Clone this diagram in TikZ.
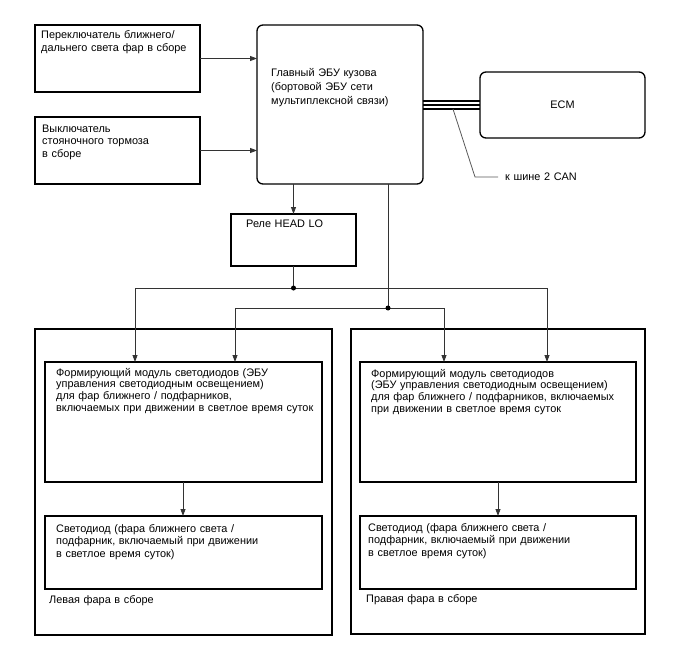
\documentclass[tikz,border=0pt]{standalone}
\usepackage{fontspec}
\setmainfont{Liberation Sans}
\usetikzlibrary{arrows.meta}
\begin{document}
\begin{tikzpicture}[x=1pt,y=-1pt,
  box/.style={draw=black,line width=1.3pt,anchor=north west,inner sep=0pt,outer sep=0pt},
  rbox/.style={box,rounded corners=6pt},
  txt/.style={anchor=base west,inner sep=0pt,align=left,text width=300pt,font=\fontsize{10.9}{12.5}\selectfont},
  conn/.style={draw=black!80,line width=0.8pt},
  arr/.style={conn,-{Triangle[length=7pt,width=5pt]}},
  dot/.style={circle,fill=black,inner sep=0pt,minimum size=5pt},
  bus/.style={draw=black,line width=1.6pt}]
\useasboundingbox (0,0) rectangle (688,658);
% boxes
\node[box,minimum width=165pt,minimum height=67pt] (sw) at (35,25) {};
\node[box,minimum width=165pt,minimum height=67pt] (pb) at (35,117) {};
\node[rbox,minimum width=166pt,minimum height=159pt] (ecu) at (257,25) {};
\node[rbox,minimum width=165pt,minimum height=66pt] (ecm) at (480,72) {};
\node[box,minimum width=125pt,minimum height=52pt] (relay) at (231,214) {};
\node[box,minimum width=297pt,minimum height=306pt] (lh) at (35,329) {};
\node[box,minimum width=294pt,minimum height=305pt] (rh) at (351,329) {};
\node[box,minimum width=277pt,minimum height=120pt] (lm) at (45,362) {};
\node[box,minimum width=276pt,minimum height=120pt] (rm) at (360,362) {};
\node[box,minimum width=277pt,minimum height=73pt] (ll) at (45,516) {};
\node[box,minimum width=276pt,minimum height=73pt] (rl) at (360,516) {};
% texts
\node[txt] (swt) at (41,39) {Переключатель ближнего/\\дальнего света фар в сборе};
\node[txt] (pbt) at (42,132) {Выключатель\\стояночного тормоза\\в сборе};
\node[txt,font=\fontsize{10.9}{14}\selectfont] (ecut) at (271,77) {Главный ЭБУ кузова\\(бортовой ЭБУ сети\\мультиплексной связи)};
\node[inner sep=0pt,font=\fontsize{10.9}{12}\selectfont] (ecmt) at (ecm.center) {ECM};
\node[txt] (relayt) at (246,227) {Реле HEAD LO};
\node[txt,font=\fontsize{10.9}{11.8}\selectfont] (lmt) at (56,376) {Формирующий модуль светодиодов (ЭБУ\\управления светодиодным освещением)\\для фар ближнего / подфарников,\\включаемых при движении в светлое время суток};
\node[txt,font=\fontsize{10.9}{11.8}\selectfont] (rmt) at (371,377) {Формирующий модуль светодиодов\\(ЭБУ управления светодиодным освещением)\\для фар ближнего / подфарников, включаемых\\при движении в светлое время суток};
\node[txt] (llt) at (56,532) {Светодиод (фара ближнего света /\\подфарник, включаемый при движении\\в светлое время суток)};
\node[txt] (rlt) at (368,531) {Светодиод (фара ближнего света /\\подфарник, включаемый при движении\\в светлое время суток)};
\node[txt] (lht) at (49,603) {Левая фара в сборе};
\node[txt] (rht) at (366,602) {Правая фара в сборе};
\node[txt] (cant) at (505,180) {к шине 2 CAN};
% coordinates
\coordinate (j1) at (293.5,288);
\coordinate (j2) at (388,308);
\coordinate (c1) at (453,109);
\coordinate (c2) at (475,177);
\coordinate (c3) at (498,177);
% connectors
\draw[arr] (sw.east) -- (sw.east -| ecu.west);
\draw[arr] (pb.east) -- (pb.east -| ecu.west);
\draw[arr] (relay.north |- ecu.south) -- (relay.north);
\draw[conn] (relay.south) -- (relay.south |- j1);
\draw[conn] (j2 |- ecu.south) -- (j2);
\draw[conn] (135,288) -- (547,288);
\draw[conn] (235,308) -- (444,308);
\draw[arr] (135,288) -- (135,362);
\draw[arr] (547,288) -- (547,362);
\draw[arr] (235,308) -- (235,362);
\draw[arr] (444,308) -- (444,362);
\node[dot] (d1) at (relay.south |- j1) {};
\node[dot] (d2) at (j2) {};
\draw[arr] (lm.south -| 183,0) -- (ll.north -| 183,0);
\draw[arr] (rm.south -| 498,0) -- (rl.north -| 498,0);
% bus
\draw[bus] (ecu.east |- 0,101) -- (ecm.west |- 0,101);
\draw[bus] (ecu.east |- 0,105) -- (ecm.west |- 0,105);
\draw[bus] (ecu.east |- 0,109) -- (ecm.west |- 0,109);
\draw[draw=black!65,line width=0.8pt] (c1) -- (c2) -- (c3);
\end{tikzpicture}
\end{document}
